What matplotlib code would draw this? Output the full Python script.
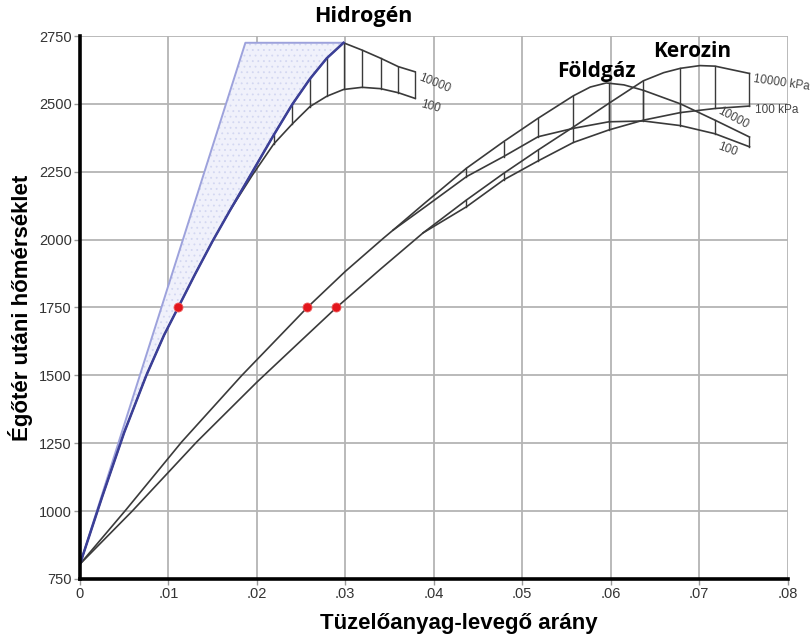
import numpy as np
import matplotlib
matplotlib.use("Agg")
import matplotlib.pyplot as plt

# ---------------- data ----------------
# Hydrogen, 10000 kPa (full curve, rising part drawn in blue)
h2_hi_x = [0, .0025, .0050, .0075, .0095, .0111, .0130, .0150, .0170, .0195, .0219,
           .0240, .0260, .0279, .0298, .0319, .0340, .0360, .0379]
h2_hi_y = [805, 1052, 1290, 1500, 1648, 1750, 1872, 1995, 2110, 2250, 2385,
           2498, 2592, 2668, 2725, 2698, 2668, 2637, 2618]
h2_peak_index = 14
# Hydrogen, 100 kPa (branch)
h2_lo_x = [.0170, .0195, .0219, .0240, .0260, .0279, .0298, .0319, .0340, .0360, .0379]
h2_lo_y = [2110, 2238, 2352, 2426, 2490, 2528, 2553, 2561, 2556, 2541, 2520]
# Hydrogen limit (light blue line)
h2_limit_x = [0, .0187, .0298]
h2_limit_y = [805, 2725, 2725]
h2_hatch_x = [.0219, .0240, .0260, .0279, .0298, .0319, .0340, .0360, .0379]

# Natural gas (Földgáz)
fg_hi_x = [0, .0052, .0115, .0183, .0257, .0300, .0343, .0354, .0390, .0437,
           .0479, .0518, .0558, .0577, .0595, .0615, .0637, .0679, .0718, .0757]
fg_hi_y = [805, 1005, 1255, 1500, 1750, 1883, 2005, 2035, 2135, 2263,
           2361, 2447, 2530, 2562, 2577, 2570, 2550, 2500, 2440, 2378]
fg_lo_x = [.0354, .0390, .0437, .0479, .0518, .0558, .0598, .0637, .0679, .0718, .0757]
fg_lo_y = [2035, 2120, 2232, 2306, 2379, 2410, 2434, 2437, 2420, 2390, 2342]
fg_hatch_x = [.0437, .0479, .0518, .0558, .0598, .0637, .0679, .0718, .0757]

# Kerosene (Kerozin)
ke_hi_x = [0, .0059, .0132, .0200, .0249, .0290, .0340, .0388, .0437, .0479,
           .0518, .0558, .0598, .0637, .0660, .0679, .0701, .0718, .0757]
ke_hi_y = [805, 1000, 1255, 1475, 1625, 1750, 1892, 2025, 2146, 2244,
           2330, 2415, 2502, 2585, 2615, 2631, 2641, 2639, 2612]
ke_lo_x = [.0388, .0437, .0479, .0518, .0558, .0598, .0637, .0679, .0718, .0757]
ke_lo_y = [2025, 2121, 2220, 2290, 2358, 2404, 2440, 2468, 2483, 2492]
ke_hatch_x = [.0437, .0479, .0518, .0558, .0598, .0637, .0679, .0718, .0757]

# red markers at 1750
dot_x = [.0111, .0257, .0290]
dot_y = [1750, 1750, 1750]

x_ticks = [0, .01, .02, .03, .04, .05, .06, .07, .08]
x_tick_labels = ["0", ".01", ".02", ".03", ".04", ".05", ".06", ".07", ".08"]
y_ticks = [750, 1000, 1250, 1500, 1750, 2000, 2250, 2500, 2750]

# ---------------- drawing ----------------
plt.rcParams['hatch.linewidth'] = 0.6
fig = plt.figure(figsize=(8.1, 6.4), dpi=100)
ax = fig.add_axes([80 / 810, 1 - 579 / 640, 707.5 / 810, 543 / 640])

ax.set_xlim(0, 0.08)
ax.set_ylim(750, 2750)
ax.set_xticks(x_ticks)
ax.set_xticklabels(x_tick_labels)
ax.set_yticks(y_ticks)
ax.grid(True, color='#b4b4b4', lw=1.3, zorder=0)
ax.set_axisbelow(True)
for s in ['top', 'right']:
    ax.spines[s].set_visible(False)
for s in ['left', 'bottom']:
    ax.spines[s].set_linewidth(2.6)
    ax.spines[s].set_color('black')
    ax.spines[s].set_zorder(5)
tick_font = ['Liberation Sans Narrow', 'Liberation Sans', 'DejaVu Sans']
ax.tick_params(axis='both', colors='#9a9a9a', length=4, width=1, labelsize=10.5,
               labelcolor='#333333', pad=2)
for lab in ax.get_xticklabels() + ax.get_yticklabels():
    lab.set_family(tick_font)

line_col = '#3a3a3a'
blue_dark = '#3b3f98'
blue_light = '#9da2dc'

# shaded hydrogen region
poly_x = list(h2_limit_x) + h2_hi_x[:h2_peak_index + 1][::-1]
poly_y = list(h2_limit_y) + h2_hi_y[:h2_peak_index + 1][::-1]
ax.fill(poly_x, poly_y, facecolor='#f0f1fb', edgecolor='#d3d7f1', hatch='...',
        lw=0, zorder=1)
ax.plot(h2_limit_x, h2_limit_y, color=blue_light, lw=1.4, zorder=3)

# hydrogen curves
ax.plot(h2_hi_x, h2_hi_y, color=line_col, lw=1.2, zorder=3)
ax.plot(h2_lo_x, h2_lo_y, color=line_col, lw=1.2, zorder=3)
ax.plot(h2_hi_x[:h2_peak_index + 1], h2_hi_y[:h2_peak_index + 1],
        color=blue_dark, lw=1.8, zorder=4)
for hx in h2_hatch_x:
    ax.plot([hx, hx], [np.interp(hx, h2_lo_x, h2_lo_y), np.interp(hx, h2_hi_x, h2_hi_y)],
            color=line_col, lw=1.0, zorder=3)

# natural gas and kerosene curves
for xs, ys in [(fg_hi_x, fg_hi_y), (fg_lo_x, fg_lo_y), (ke_hi_x, ke_hi_y), (ke_lo_x, ke_lo_y)]:
    ax.plot(xs, ys, color=line_col, lw=1.2, zorder=3)
for hx in fg_hatch_x:
    ax.plot([hx, hx], [np.interp(hx, fg_lo_x, fg_lo_y), np.interp(hx, fg_hi_x, fg_hi_y)],
            color=line_col, lw=1.0, zorder=3)
for hx in ke_hatch_x:
    ax.plot([hx, hx], [np.interp(hx, ke_lo_x, ke_lo_y), np.interp(hx, ke_hi_x, ke_hi_y)],
            color=line_col, lw=1.0, zorder=3)

# red markers
ax.plot(dot_x, dot_y, 'o', color='#e3161c', ms=6.5, mec='#f06060', mew=0.6,
        zorder=6, clip_on=False)

# fuel names
name_font = ['Open Sans', 'DejaVu Sans']
ax.text(.0320, 2822, "Hidrogén", family=name_font, weight='bold', fontsize=15.5,
        ha='center', va='center', clip_on=False)
ax.text(.0584, 2618, "Földgáz", family=name_font, weight='bold', fontsize=15,
        ha='center', va='center')
ax.text(.0692, 2692, "Kerozin", family=name_font, weight='bold', fontsize=15,
        ha='center', va='center')

# pressure labels
pfont = ['Liberation Sans', 'DejaVu Sans']
pcol = '#444444'
ax.text(.0383, 2600, "10000", family=pfont, fontsize=8.5, color=pcol, rotation=-22,
        ha='left', va='center', rotation_mode='anchor', clip_on=False)
ax.text(.0385, 2500, "100", family=pfont, fontsize=8.5, color=pcol, rotation=-15,
        ha='left', va='center', rotation_mode='anchor', clip_on=False)
ax.text(.0722, 2475, "10000", family=pfont, fontsize=8.5, color=pcol, rotation=-28,
        ha='left', va='center', rotation_mode='anchor', clip_on=False)
ax.text(.0722, 2345, "100", family=pfont, fontsize=8.5, color=pcol, rotation=-20,
        ha='left', va='center', rotation_mode='anchor', clip_on=False)
ax.text(.0762, 2590, "10000 kPa", family=pfont, fontsize=8.5, color=pcol, rotation=-8,
        ha='left', va='center', rotation_mode='anchor', clip_on=False)
ax.text(.0763, 2478, "100 kPa", family=pfont, fontsize=8.5, color=pcol,
        ha='left', va='center', clip_on=False)

# axis labels
lab_font = ['Liberation Sans Narrow', 'Liberation Sans', 'DejaVu Sans']
ax.set_xlabel("Tüzelőanyag-levegő arány", family=lab_font, weight='bold', fontsize=16)
ax.set_ylabel("Égőtér utáni hőmérséklet", family=lab_font, weight='bold', fontsize=16)
ax.xaxis.set_label_coords(0.536, -0.062)
ax.yaxis.set_label_coords(-0.066, 0.50)

fig.savefig("out.png", dpi=100)
